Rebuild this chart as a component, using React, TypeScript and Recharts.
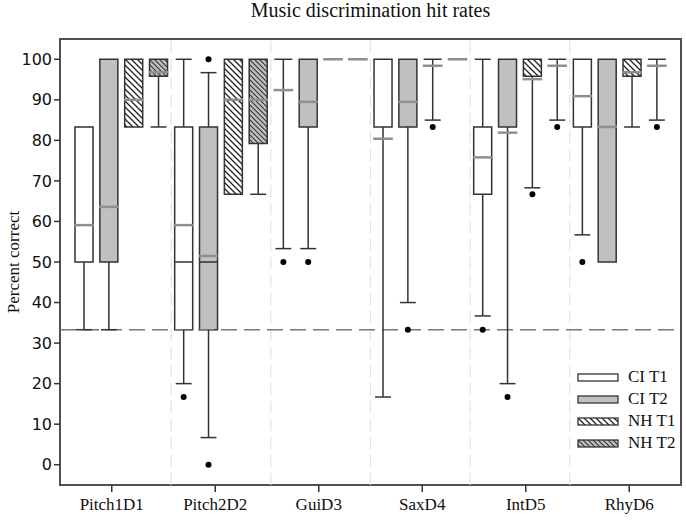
import React from "react";
import { ComposedChart, XAxis, YAxis, Scatter, ReferenceArea, ReferenceLine } from "recharts";

const CATEGORIES = ["Pitch1D1", "Pitch2D2", "GuiD3", "SaxD4", "IntD5", "RhyD6"];
const Y_TICKS = [0, 10, 20, 30, 40, 50, 60, 70, 80, 90, 100];
const CHANCE_LEVEL = 33.3;

// per category: [low whisker, q1, median, q3, high whisker, mean]
const CI_T1 = [
  [33.3, 50, 50, 83.3, 83.3, 59.1],
  [20, 33.3, 50, 83.3, 100, 59.1],
  [53.3, 100, 100, 100, 100, 92.4],
  [16.7, 83.3, 100, 100, 100, 80.4],
  [36.7, 66.7, 66.7, 83.3, 100, 75.8],
  [56.7, 83.3, 100, 100, 100, 90.9],
];
const CI_T2 = [
  [33.3, 50, 50, 100, 100, 63.6],
  [6.7, 33.3, 50, 83.3, 96.7, 51.5],
  [53.3, 83.3, 100, 100, 100, 89.5],
  [40, 83.3, 100, 100, 100, 89.5],
  [20, 83.3, 100, 100, 100, 81.9],
  [50, 50, 83.3, 100, 100, 83.3],
];
const NH_T1 = [
  [83.3, 83.3, 100, 100, 100, 90.0],
  [66.7, 66.7, 100, 100, 100, 90.0],
  [100, 100, 100, 100, 100, 100],
  [85, 100, 100, 100, 100, 98.4],
  [68.3, 95.8, 100, 100, 100, 95.1],
  [83.3, 95.8, 100, 100, 100, 96.8],
];
const NH_T2 = [
  [83.3, 95.8, 100, 100, 100, 96.8],
  [66.7, 79.2, 100, 100, 100, 90.0],
  [100, 100, 100, 100, 100, 100],
  [100, 100, 100, 100, 100, 100],
  [85, 100, 100, 100, 100, 98.4],
  [85, 100, 100, 100, 100, 98.4],
];

// outliers per category
const CI_T1_OUT = [[], [16.7], [50], [], [33.3], [50]];
const CI_T2_OUT = [[], [0, 100], [50], [33.3], [16.7], []];
const NH_T1_OUT = [[], [], [], [83.3], [66.7], []];
const NH_T2_OUT = [[], [], [], [], [83.3], [83.3]];

const SERIES = [
  { name: "CI T1", stats: CI_T1, out: CI_T1_OUT, fill: "#ffffff" },
  { name: "CI T2", stats: CI_T2, out: CI_T2_OUT, fill: "#c0c0c0" },
  { name: "NH T1", stats: NH_T1, out: NH_T1_OUT, fill: "url(#hatchWhite)" },
  { name: "NH T2", stats: NH_T2, out: NH_T2_OUT, fill: "url(#hatchGray)" },
];

// layout of the boxes in x-axis units (one unit per category band)
const FIRST = 0.232;
const CAT_STEP = 0.963;
const GROUP_STEP = 0.24;
const BOX_HALF = 0.087;
const CAP_HALF = 0.077;
const MEAN_HALF = 0.095;

const INK = "#333";
const MEAN_COLOR = "#8f8f8f";
const serif = "'Liberation Serif', 'Times New Roman', serif";

const boxX = (cat: number, group: number) => FIRST + cat * CAT_STEP + group * GROUP_STEP;

const outliers = SERIES.flatMap((s, g) =>
  s.out.flatMap((vals, i) => vals.map((y) => ({ x: boxX(i, g), y })))
);

const separators = CATEGORIES.slice(1).map(
  (_, i) => FIRST + 3 * GROUP_STEP + (CAT_STEP - 3 * GROUP_STEP) / 2 + i * CAT_STEP
);

const seg = (key: string, x1: number, y1: number, x2: number, y2: number, stroke = INK, w = 1.5) => (
  <ReferenceLine
    key={key}
    segment={[{ x: x1, y: y1 }, { x: x2, y: y2 }]}
    stroke={stroke}
    strokeWidth={w}
    ifOverflow="visible"
  />
);

const whiskers = SERIES.flatMap((s, g) =>
  s.stats.flatMap(([lo, q1, , q3, hi], i) => {
    const x = boxX(i, g);
    const els = [];
    if (lo < q1) {
      els.push(seg(`wl${g}${i}`, x, lo, x, q1));
      els.push(seg(`cl${g}${i}`, x - CAP_HALF, lo, x + CAP_HALF, lo));
    }
    if (hi > q3) {
      els.push(seg(`wh${g}${i}`, x, q3, x, hi));
      els.push(seg(`ch${g}${i}`, x - CAP_HALF, hi, x + CAP_HALF, hi));
    }
    return els;
  })
);

const boxes = SERIES.flatMap((s, g) =>
  s.stats.map(([, q1, , q3], i) => {
    const x = boxX(i, g);
    if (q3 > q1) {
      return (
        <ReferenceArea
          key={`b${g}${i}`}
          x1={x - BOX_HALF}
          x2={x + BOX_HALF}
          y1={q1}
          y2={q3}
          fill={s.fill}
          fillOpacity={1}
          stroke={INK}
          strokeWidth={1.5}
          ifOverflow="visible"
        />
      );
    }
    return seg(`bf${g}${i}`, x - BOX_HALF, q1, x + BOX_HALF, q1);
  })
);

const medians = SERIES.flatMap((s, g) =>
  s.stats
    .map(([, q1, med, q3], i) => ({ q1, med, q3, i }))
    .filter((d) => d.med > d.q1 && d.med < d.q3)
    .map((d) => seg(`m${g}${d.i}`, boxX(d.i, g) - BOX_HALF, d.med, boxX(d.i, g) + BOX_HALF, d.med))
);

const means = SERIES.flatMap((s, g) =>
  s.stats.map((st, i) =>
    seg(`mn${g}${i}`, boxX(i, g) - MEAN_HALF, st[5], boxX(i, g) + MEAN_HALF, st[5], MEAN_COLOR, 2.5)
  )
);

const Swatch = ({ fill }: { fill: string }) => (
  <svg width={42} height={9} style={{ display: "block" }}>
    <rect x={1} y={1} width={40} height={7} fill={fill} stroke={INK} strokeWidth={1.3} />
  </svg>
);

export default function App() {
  return (
    <div style={{ position: "absolute", left: 0, top: 0, width: 686, height: 524, background: "#fff" }}>
      <svg width={0} height={0} style={{ position: "absolute" }}>
        <defs>
          <pattern id="hatchWhite" width={6} height={6} patternUnits="userSpaceOnUse">
            <rect width={6} height={6} fill="#fff" />
            <path d="M-1,-1 L7,7 M-4,2 L2,8 M2,-4 L8,2" stroke="#222" strokeWidth={1.3} />
          </pattern>
          <pattern id="hatchGray" width={5} height={5} patternUnits="userSpaceOnUse">
            <rect width={5} height={5} fill="#c0c0c0" />
            <path d="M-1,-1 L6,6 M-3.5,1.5 L1.5,6.5 M1.5,-3.5 L6.5,1.5" stroke="#333" strokeWidth={1.1} />
          </pattern>
        </defs>
      </svg>
      <div
        style={{
          position: "absolute",
          left: 60,
          width: 621,
          top: 0,
          textAlign: "center",
          fontFamily: serif,
          fontSize: 20,
          lineHeight: "20px",
          color: "#111",
        }}
      >
        Music discrimination hit rates
      </div>
      <ComposedChart width={686} height={524} margin={{ top: 39, right: 5, bottom: 0, left: 0 }}>
        <XAxis
          dataKey="x"
          type="number"
          domain={[0, 6]}
          allowDataOverflow
          ticks={CATEGORIES.map((_, i) => i + 0.5)}
          tickFormatter={(v: number) => CATEGORIES[Math.round(v - 0.5)]}
          height={39}
          axisLine={false}
          tickSize={7}
          tickMargin={6}
          tickLine={{ stroke: INK, strokeWidth: 1.5 }}
          tick={{ fill: "#111", fontFamily: serif, fontSize: 17 }}
        />
        <YAxis
          type="number"
          domain={[-5, 105]}
          allowDataOverflow
          ticks={Y_TICKS}
          width={60}
          axisLine={false}
          tickSize={6}
          tickMargin={2}
          tickLine={{ stroke: INK, strokeWidth: 1.5 }}
          tick={{ fill: "#111", fontFamily: "'DejaVu Sans', sans-serif", fontSize: 16 }}
          label={{
            content: ({ viewBox }: any) => (
              <text
                x={viewBox.x + 13}
                y={viewBox.y + viewBox.height / 2}
                transform={`rotate(-90 ${viewBox.x + 13} ${viewBox.y + viewBox.height / 2})`}
                textAnchor="middle"
                dominantBaseline="central"
                fontFamily={serif}
                fontSize={17}
                fill="#111"
              >
                Percent correct
              </text>
            ),
          }}
        />
        {separators.map((x, i) => (
          <ReferenceLine key={`sep${i}`} x={x} stroke="#e2e2e2" strokeWidth={1.2} strokeDasharray="12 6" />
        ))}
        <ReferenceLine y={CHANCE_LEVEL} stroke="#777" strokeWidth={1.5} strokeDasharray="16 7" />
        {whiskers}
        {boxes}
        {medians}
        {means}
        <Scatter
          data={outliers}
          dataKey="y"
          isAnimationActive={false}
          shape={(p: any) => <circle cx={p.cx} cy={p.cy} r={3} fill="#000" />}
        />
        <ReferenceArea x1={0} x2={6} y1={-5} y2={105} fill="none" stroke="#505050" strokeWidth={2} ifOverflow="visible" />
      </ComposedChart>
      <div style={{ position: "absolute", left: 577, top: 366, fontFamily: serif, fontSize: 17, color: "#111" }}>
        {SERIES.map((s) => (
          <div key={s.name} style={{ display: "flex", alignItems: "center", height: 22 }}>
            <Swatch fill={s.fill} />
            <span style={{ marginLeft: 9 }}>{s.name}</span>
          </div>
        ))}
      </div>
    </div>
  );
}
